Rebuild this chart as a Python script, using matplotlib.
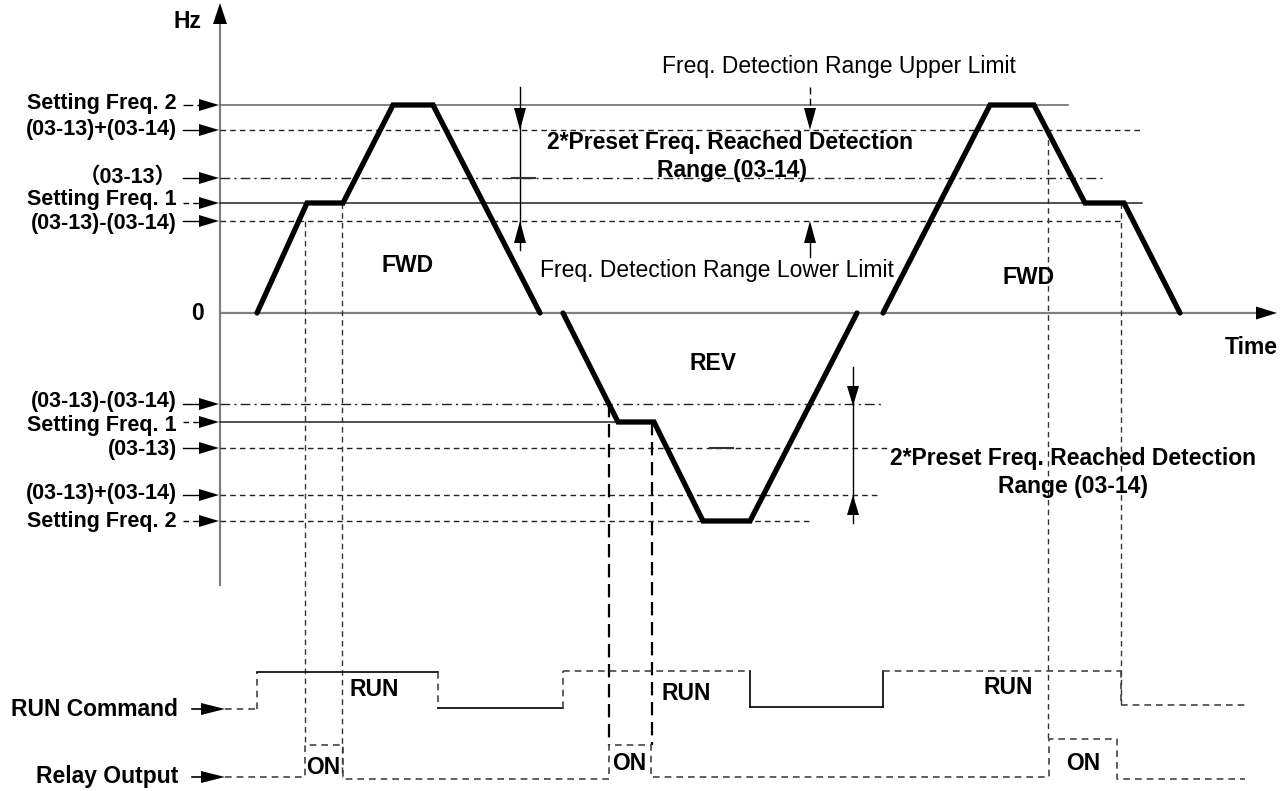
import matplotlib
matplotlib.use('Agg')
import matplotlib.pyplot as plt

# 画面座標 (px) で描く: x 0..1288, y 0..791 (下向き)
W, H = 1288, 791

# 周波数レベル (上側 FWD)
top_levels = [105, 130, 178, 203, 221]
top_labels = ['Setting Freq. 2', '(03-13)+(03-14)', '（03-13）', 'Setting Freq. 1', '(03-13)-(03-14)']
top_label_y = [103, 130, 177, 199, 224]
top_ends = [1068, 1142, 1105, 1142, 1120]
top_styles = ['-', '--', '-.', '-', '--']
top_leads = ['-.', '-', '-', '--', '-']

# 周波数レベル (下側 REV)
bot_levels = [404, 422, 448, 495, 521]
bot_labels = ['(03-13)-(03-14)', 'Setting Freq. 1', '(03-13)', '(03-13)+(03-14)', 'Setting Freq. 2']
bot_label_y = [402, 426, 450, 494, 522]
bot_ends = [883, 618, 887, 878, 812]
bot_styles = ['-.', '-', '--', '--', '--']
bot_leads = ['-', '--', '-', '-', '--']

# 周波数波形
fwd1_x = [257, 307, 343, 393, 433, 540]
fwd1_y = [313, 203, 203, 105, 105, 313]
rev_x = [563, 618, 654, 703, 750, 857]
rev_y = [313, 422, 422, 521, 521, 313]
fwd2_x = [883, 990, 1034, 1085, 1124, 1180]
fwd2_y = [313, 105, 105, 203, 203, 313]

# 縦の補助線
v_x = [305, 342, 609, 652, 1048, 1121]
v_top = [221, 203, 404, 422, 130, 203]
v_bot = [745, 777, 745, 745, 739, 705]
v_long = [False, False, True, True, False, False]

# RUN 指令
run_x = [225, 257, 257, 438, 438, 563, 563, 750, 750, 883, 883, 1121, 1121, 1245]
run_y = [709, 709, 672, 672, 708, 708, 671, 671, 707, 707, 671, 671, 705, 705]
run_seg = ['--', '--', '-', '--', '-', '--', '--', '-', '-', '-', '--', '--', '--']

# リレー出力
relay_x = [225, 305, 305, 343, 343, 609, 609, 651, 651, 1049, 1049, 1117, 1117, 1245]
relay_y = [777, 777, 745, 745, 779, 779, 745, 745, 777, 777, 739, 739, 779, 779]

FONT = ['Liberation Sans', 'Noto Sans CJK SC', 'DejaVu Sans']
FS = 16.5
FS_LAB = 15.5

fig = plt.figure(figsize=(W / 100, H / 100), dpi=100)
ax = fig.add_axes([0, 0, 1, 1])
ax.set_xlim(0, W)
ax.set_ylim(H, 0)
ax.axis('off')


def tri(tip_x, tip_y, direction, length=20, half=6.5):
    if direction == 'right':
        xs = [tip_x, tip_x - length, tip_x - length]
        ys = [tip_y, tip_y - half, tip_y + half]
    elif direction == 'up':
        xs = [tip_x, tip_x - half, tip_x + half]
        ys = [tip_y, tip_y + length, tip_y + length]
    else:
        xs = [tip_x, tip_x - half, tip_x + half]
        ys = [tip_y, tip_y - length, tip_y - length]
    ax.fill(xs, ys, color='black', lw=0, zorder=5)


def txt(x, y, s, bold=True, ha='center', size=FS):
    ax.text(x, y, s, ha=ha, va='center', fontsize=size,
            fontweight='bold' if bold else 'normal', family=FONT, color='black')


# 軸
ax.plot([220, 220], [22, 585], color='#808080', lw=1.6, zorder=2)
tri(220, 3, 'up', length=21, half=7)
ax.plot([220, 1258], [313, 313], color='#808080', lw=1.6, zorder=2)
tri(1277, 313, 'right', length=21, half=6.5)
txt(188, 22, 'Hz')
txt(198, 313, '0')
txt(1251, 347, 'Time')

dash_fine = (0, (4, 3))
dashdot = (0, (7, 3, 1.5, 3))


def style(s):
    if s == '--':
        return dash_fine
    if s == '-.':
        return dashdot
    return '-'


# レベル線とラベル
for levels, labels, label_y, ends, styles, leads in [
        (top_levels, top_labels, top_label_y, top_ends, top_styles, top_leads),
        (bot_levels, bot_labels, bot_label_y, bot_ends, bot_styles, bot_leads)]:
    for y, lab, ly, xe, st, ld in zip(levels, labels, label_y, ends, styles, leads):
        col = '#606060' if (st == '-' and y == 105) else '#222222'
        ax.plot([220, xe], [y, y], color=col, lw=1.1 if st == '-' else 1.0,
                linestyle=style(st), zorder=2)
        ax.plot([183, 200], [y, y], color='black', lw=1.0, linestyle=style(ld), zorder=3)
        tri(219, y, 'right', length=20, half=6)
        txt(177, ly, lab, ha='right', size=FS_LAB)

# 縦の補助線
for x, yt, yb, lg in zip(v_x, v_top, v_bot, v_long):
    if lg:
        ax.plot([x, x], [yt, yb], color='black', lw=1.6, linestyle=(0, (6, 3)), zorder=2)
    else:
        ax.plot([x, x], [yt, yb], color='#333333', lw=1.0, linestyle=dash_fine, zorder=2)

# 周波数波形
for xs, ys in [(fwd1_x, fwd1_y), (rev_x, rev_y), (fwd2_x, fwd2_y)]:
    ax.plot(xs, ys, color='black', lw=3.8, solid_capstyle='round',
            solid_joinstyle='miter', zorder=4)

# 右側の検出範囲矢印 (上)
ax.plot([520, 520], [87, 250], color='black', lw=1.0, zorder=3)
tri(520, 130, 'down', length=22, half=6)
tri(520, 221, 'up', length=22, half=6)
ax.plot([512, 535], [178, 178], color='#333333', lw=1.5, zorder=3)
ax.plot([810, 810], [87, 110], color='black', lw=1.0, linestyle=(0, (5, 3)), zorder=3)
tri(810, 130, 'down', length=22, half=6)
tri(810, 221, 'up', length=22, half=6)
ax.plot([810, 810], [243, 257], color='black', lw=1.0, zorder=3)

# 右側の検出範囲矢印 (下)
ax.plot([853, 853], [367, 523], color='black', lw=1.0, zorder=3)
tri(853, 406, 'down', length=20, half=6)
tri(853, 495, 'up', length=20, half=6)
ax.plot([710, 733], [448, 448], color='#333333', lw=1.5, zorder=3)

# 文字
txt(839, 66, 'Freq. Detection Range Upper Limit', bold=False)
txt(717, 270, 'Freq. Detection Range Lower Limit', bold=False)
txt(730, 143, '2*Preset Freq. Reached Detection')
txt(732, 170, 'Range (03-14)')
txt(1073, 458, '2*Preset Freq. Reached Detection')
txt(1073, 486, 'Range (03-14)')
txt(408, 265, 'FWD')
txt(1029, 277, 'FWD')
txt(713, 364, 'REV')

# RUN 指令
for i, st in enumerate(run_seg):
    ax.plot(run_x[i:i + 2], run_y[i:i + 2], color='#444444' if st == '--' else 'black',
            lw=1.2, linestyle=dash_fine if st == '--' else '-', zorder=3)
ax.plot([192, 202], [709, 709], color='black', lw=1.2)
tri(225, 709, 'right', length=24, half=6)
txt(178, 709, 'RUN Command', ha='right')
txt(350, 690, 'RUN', ha='left')
txt(662, 693, 'RUN', ha='left')
txt(1033, 688, 'RUN', ha='right')

# リレー出力
ax.plot(relay_x, relay_y, color='#444444', lw=1.2, linestyle=dash_fine, zorder=3)
ax.plot([192, 202], [777, 777], color='black', lw=1.2)
tri(225, 777, 'right', length=24, half=6)
txt(178, 777, 'Relay Output', ha='right')
txt(323, 768, 'ON')
txt(629, 763, 'ON')
txt(1083, 763, 'ON')

fig.savefig('out.png', dpi=100)
